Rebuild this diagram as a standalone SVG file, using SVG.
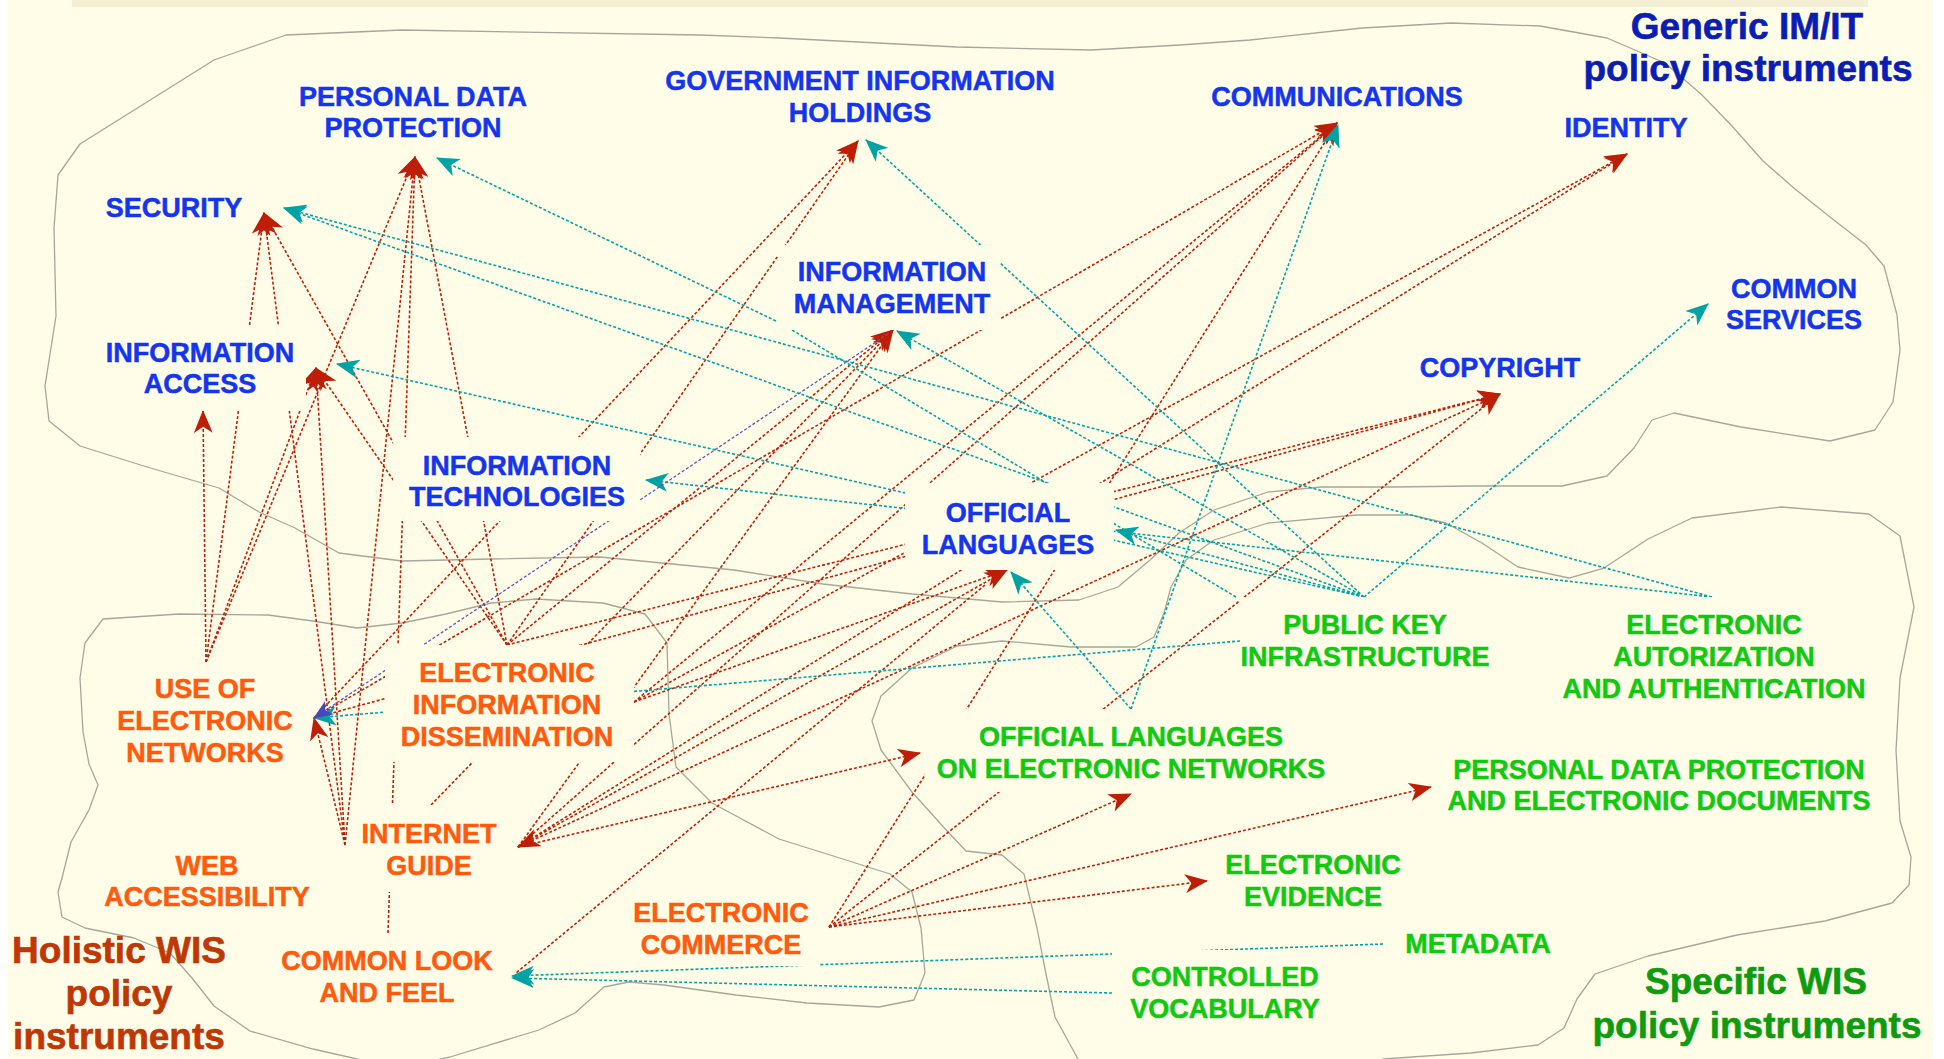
<svg xmlns="http://www.w3.org/2000/svg" width="1944" height="1059" viewBox="0 0 1944 1059">
<defs>
<style>
.bg{fill:#FFFDE8}
.bx{fill:#FFFDE8;stroke:none}
.blob{fill:none;stroke:#A8A698;stroke-width:1.3;stroke-linejoin:round}
.r{stroke:#C0200A;stroke-width:1.6;stroke-dasharray:3 2;fill:none;marker-end:url(#ar)}
.rn{stroke:#C0200A;stroke-width:1.6;stroke-dasharray:3 2;fill:none}
.t{stroke:#00A5A5;stroke-width:1.6;stroke-dasharray:3 2;fill:none;marker-end:url(#at)}
.tn{stroke:#00A5A5;stroke-width:1.6;stroke-dasharray:3 2;fill:none}
.b{stroke:#5A55C8;stroke-width:1.3;stroke-dasharray:3 2;fill:none;marker-end:url(#ab)}
text{font-family:"Liberation Sans",Arial,sans-serif;font-weight:bold;text-anchor:middle}
.lb{font-size:27px;fill:#1435F0;stroke:#1435F0;stroke-width:0.5}
.lo{font-size:27px;fill:#FF5A0D;stroke:#FF5A0D;stroke-width:0.5}
.lg{font-size:27px;fill:#12C912;stroke:#12C912;stroke-width:0.5}
.tb{font-size:37px;fill:#0A1EB4;stroke:#0A1EB4;stroke-width:0.6}
.to{font-size:37px;fill:#BE3705;stroke:#BE3705;stroke-width:0.6}
.tg{font-size:37px;fill:#0F9B0F;stroke:#0F9B0F;stroke-width:0.6}
</style>
<marker id="ar" viewBox="0 0 22 18" refX="21" refY="9" markerWidth="23" markerHeight="19" markerUnits="userSpaceOnUse" orient="auto"><path d="M0,0 L22,9 L0,18 L6,9 Z" fill="#BE1E05"/></marker>
<marker id="at" viewBox="0 0 22 18" refX="21" refY="9" markerWidth="23" markerHeight="19" markerUnits="userSpaceOnUse" orient="auto"><path d="M0,0 L22,9 L0,18 L6,9 Z" fill="#00A3A3"/></marker>
<marker id="ab" viewBox="0 0 22 18" refX="21" refY="9" markerWidth="20" markerHeight="16" markerUnits="userSpaceOnUse" orient="auto"><path d="M0,0 L22,9 L0,18 L6,9 Z" fill="#4A45B8"/></marker>
</defs>
<rect x="0" y="0" width="1944" height="1059" fill="#FFFFFF"/>
<rect class="bg" x="8" y="0" width="1925" height="1059"/>
<rect x="72" y="0" width="1796" height="7" fill="#F4EED4"/>

<g id="regions">
<path class="blob" d="M700,35 L779,38 L957,47 L1091,50 L1180,45 L1250,40 L1362,28 L1451,23 L1540,26 L1607,38 L1665,63 L1701,94 L1732,126 L1763,161 L1795,189 L1830,217 L1866,245 L1884,266 L1897,315 L1900,350 L1893,402 L1875,430 L1830,441 L1741,427 L1674,413 L1652,420 L1634,448 L1607,476 L1562,486 L1473,486 L1393,487 L1321,487 L1268,492 L1214,510 L1179,533 L1150,560 L1118,587 L1079,600 L1002,602 L912,594 L823,584 L734,570 L600,557 L491,559 L402,561 L339,553 L295,528 L259,512 L219,488 L147,467 L80,446 L49,421 L45,386 L56,316 L54,228 L58,175 L80,144 L147,102 L214,60 L286,35 L402,30 Z"/>
<path class="blob" d="M103,619 L179,614 L268,615 L313,621 L357,628 L402,623 L446,614 L491,603 L536,599 L603,603 L645,614 L667,643 L669,714 L676,767 L712,803 L779,839 L846,860 L890,874 L912,892 L921,928 L925,973 L914,1000 L879,1007 L807,1003 L736,995 L664,985 L629,982 L604,987 L575,1013 L539,1030 L450,1057 L400,1068 L357,1059 L313,1049 L250,1031 L214,1006 L192,978 L170,953 L134,938 L85,928 L62,917 L58,892 L62,878 L71,842 L89,810 L98,785 L89,764 L83,732 L80,678 L85,643 Z"/>
<path class="blob" d="M1078,1070 L1078,1059 L1055,1017 L1046,974 L1037,928 L1024,874 L1002,855 L966,851 L948,832 L912,792 L881,750 L872,721 L881,696 L912,668 L957,646 L1002,641 L1071,647 L1136,647 L1154,637 L1164,613 L1171,587 L1186,560 L1214,540 L1268,523 L1357,515 L1411,515 L1446,523 L1482,543 L1518,567 L1569,578 L1604,568 L1648,539 L1692,518 L1781,507 L1869,514 L1900,536 L1914,607 L1900,678 L1896,750 L1900,821 L1911,857 L1909,885 L1892,903 L1825,921 L1737,935 L1648,956 L1595,974 L1577,999 L1564,1028 L1538,1045 L1471,1053 L1383,1059 L1370,1070"/>
</g>

<g id="connectors">
<line class="r" x1="206" y1="662" x2="203" y2="411"/>
<line class="r" x1="206" y1="662" x2="264" y2="213"/>
<line class="r" x1="206" y1="662" x2="415" y2="157"/>
<line class="r" x1="206" y1="662" x2="316" y2="368"/>
<line class="r" x1="314" y1="718" x2="858" y2="141"/>
<line class="r" x1="314" y1="718" x2="1337" y2="123"/>
<line class="r" x1="314" y1="718" x2="1500" y2="394"/>
<line class="r" x1="345" y1="845" x2="314" y2="718"/>
<line class="r" x1="345" y1="845" x2="316" y2="368"/>
<line class="r" x1="345" y1="845" x2="264" y2="213"/>
<line class="r" x1="345" y1="845" x2="415" y2="157"/>
<line class="r" x1="388" y1="933" x2="415" y2="157"/>
<line class="r" x1="507" y1="645" x2="415" y2="157"/>
<line class="r" x1="507" y1="645" x2="264" y2="213"/>
<line class="r" x1="507" y1="645" x2="316" y2="368"/>
<line class="r" x1="507" y1="645" x2="858" y2="141"/>
<line class="r" x1="507" y1="645" x2="1500" y2="394"/>
<line class="r" x1="507" y1="645" x2="893" y2="330"/>
<line class="r" x1="431" y1="805" x2="893" y2="330"/>
<line class="r" x1="634" y1="702" x2="1337" y2="123"/>
<line class="r" x1="634" y1="702" x2="1627" y2="154"/>
<line class="r" x1="634" y1="702" x2="1007" y2="570"/>
<line class="r" x1="518" y1="847" x2="893" y2="330"/>
<line class="r" x1="518" y1="847" x2="1337" y2="123"/>
<line class="r" x1="518" y1="847" x2="1627" y2="154"/>
<line class="r" x1="518" y1="847" x2="1007" y2="570"/>
<line class="r" x1="518" y1="847" x2="920" y2="753"/>
<line class="r" x1="1492" y1="398" x2="518" y2="847"/>
<line class="r" x1="829" y1="927" x2="1337" y2="123"/>
<line class="r" x1="829" y1="927" x2="1500" y2="394"/>
<line class="r" x1="829" y1="927" x2="1131" y2="794"/>
<line class="r" x1="829" y1="927" x2="1431" y2="787"/>
<line class="r" x1="829" y1="927" x2="1207" y2="881"/>
<line class="rn" x1="985" y1="585" x2="516" y2="973"/>
<line class="t" x1="1364" y1="597" x2="284" y2="208"/>
<line class="t" x1="1364" y1="597" x2="337" y2="364"/>
<line class="t" x1="776" y1="321" x2="437" y2="158"/>
<line class="t" x1="1364" y1="597" x2="897" y2="331"/>
<line class="t" x1="1364" y1="597" x2="866" y2="140"/>
<line class="t" x1="1364" y1="597" x2="1116" y2="530"/>
<line class="t" x1="1364" y1="597" x2="1708" y2="304"/>
<line class="t" x1="1712" y1="597" x2="284" y2="208"/>
<line class="t" x1="1712" y1="597" x2="646" y2="480"/>
<line class="t" x1="1240" y1="641" x2="314" y2="718"/>
<line class="t" x1="1131" y1="709" x2="1011" y2="572"/>
<line class="t" x1="1131" y1="709" x2="1338" y2="125"/>
<line class="t" x1="1383" y1="944" x2="512" y2="976"/>
<line class="t" x1="1112" y1="993" x2="512" y2="978"/>
<line class="tn" x1="1236" y1="597" x2="792" y2="330"/>
<line class="b" x1="888" y1="334" x2="314" y2="718"/>
</g>

<g id="n-pdp"><rect class="bx" x="292" y="75" width="244" height="72"/><text class="lb"><tspan x="413" y="106">PERSONAL DATA</tspan><tspan x="413" y="137">PROTECTION</tspan></text></g>
<g id="n-security"><rect class="bx" x="100" y="192" width="150" height="34"/><text class="lb" x="174" y="217">SECURITY</text></g>
<g id="n-infoaccess"><rect class="bx" x="98" y="325" width="208" height="86"/><text class="lb"><tspan x="200" y="362">INFORMATION</tspan><tspan x="200" y="393">ACCESS</tspan></text></g>
<g id="n-infotech"><rect class="bx" x="393" y="437" width="247" height="84"/><text class="lb"><tspan x="517" y="475">INFORMATION</tspan><tspan x="517" y="506">TECHNOLOGIES</tspan></text></g>
<g id="n-govt"><rect class="bx" x="655" y="58" width="410" height="78"/><text class="lb"><tspan x="860" y="90">GOVERNMENT INFORMATION</tspan><tspan x="860" y="122">HOLDINGS</tspan></text></g>
<g id="n-infomgmt"><rect class="bx" x="778" y="245" width="222" height="85"/><text class="lb"><tspan x="892" y="281">INFORMATION</tspan><tspan x="892" y="313">MANAGEMENT</tspan></text></g>
<g id="n-comm"><rect class="bx" x="1200" y="80" width="275" height="35"/><text class="lb" x="1337" y="106">COMMUNICATIONS</text></g>
<g id="n-identity"><rect class="bx" x="1555" y="110" width="145" height="35"/><text class="lb" x="1626" y="137">IDENTITY</text></g>
<g id="n-commonservices"><rect class="bx" x="1715" y="270" width="160" height="68"/><text class="lb"><tspan x="1794" y="298">COMMON</tspan><tspan x="1794" y="329">SERVICES</tspan></text></g>
<g id="n-copyright"><rect class="bx" x="1410" y="350" width="180" height="35"/><text class="lb" x="1500" y="377">COPYRIGHT</text></g>
<g id="n-officiallang"><rect class="bx" x="905" y="483" width="209" height="87"/><text class="lb"><tspan x="1008" y="522">OFFICIAL</tspan><tspan x="1008" y="554">LANGUAGES</tspan></text></g>
<g id="n-useofen"><rect class="bx" x="110" y="662" width="195" height="112"/><text class="lo"><tspan x="205" y="698">USE OF</tspan><tspan x="205" y="730">ELECTRONIC</tspan><tspan x="205" y="762">NETWORKS</tspan></text></g>
<g id="n-eid"><rect class="bx" x="385" y="645" width="249" height="117"/><text class="lo"><tspan x="507" y="682">ELECTRONIC</tspan><tspan x="507" y="714">INFORMATION</tspan><tspan x="507" y="746">DISSEMINATION</tspan></text></g>
<g id="n-internetguide"><rect class="bx" x="350" y="805" width="160" height="87"/><text class="lo"><tspan x="429" y="843">INTERNET</tspan><tspan x="429" y="875">GUIDE</tspan></text></g>
<g id="n-webaccess"><rect class="bx" x="95" y="850" width="225" height="68"/><text class="lo"><tspan x="207" y="875">WEB</tspan><tspan x="207" y="906">ACCESSIBILITY</tspan></text></g>
<g id="n-commonlook"><rect class="bx" x="275" y="933" width="225" height="80"/><text class="lo"><tspan x="387" y="970">COMMON LOOK</tspan><tspan x="387" y="1002">AND FEEL</tspan></text></g>
<g id="n-ecommerce"><rect class="bx" x="625" y="890" width="195" height="76"/><text class="lo"><tspan x="721" y="922">ELECTRONIC</tspan><tspan x="721" y="954">COMMERCE</tspan></text></g>
<g id="n-pki"><rect class="bx" x="1240" y="597" width="255" height="83"/><text class="lg"><tspan x="1365" y="634">PUBLIC KEY</tspan><tspan x="1365" y="666">INFRASTRUCTURE</tspan></text></g>
<g id="n-eaa"><rect class="bx" x="1555" y="597" width="320" height="113"/><text class="lg"><tspan x="1714" y="634">ELECTRONIC</tspan><tspan x="1714" y="666">AUTORIZATION</tspan><tspan x="1714" y="698">AND AUTHENTICATION</tspan></text></g>
<g id="n-oloen"><rect class="bx" x="925" y="709" width="410" height="83"/><text class="lg"><tspan x="1131" y="746">OFFICIAL LANGUAGES</tspan><tspan x="1131" y="778">ON ELECTRONIC NETWORKS</tspan></text></g>
<g id="n-pdped"><rect class="bx" x="1440" y="745" width="440" height="78"/><text class="lg"><tspan x="1659" y="779">PERSONAL DATA PROTECTION</tspan><tspan x="1659" y="810">AND ELECTRONIC DOCUMENTS</tspan></text></g>
<g id="n-evidence"><rect class="bx" x="1215" y="843" width="170" height="75"/><text class="lg"><tspan x="1313" y="874">ELECTRONIC</tspan><tspan x="1313" y="906">EVIDENCE</tspan></text></g>
<g id="n-metadata"><rect class="bx" x="1390" y="925" width="175" height="40"/><text class="lg" x="1478" y="953">METADATA</text></g>
<g id="n-vocab"><rect class="bx" x="1112" y="950" width="218" height="78"/><text class="lg"><tspan x="1225" y="986">CONTROLLED</tspan><tspan x="1225" y="1018">VOCABULARY</tspan></text></g>

<g id="titles">
<text class="tb"><tspan x="1747" y="39">Generic IM/IT</tspan><tspan x="1748" y="81">policy instruments</tspan></text>
<text class="to"><tspan x="119" y="963">Holistic WIS</tspan><tspan x="119" y="1006">policy</tspan><tspan x="119" y="1049">instruments</tspan></text>
<text class="tg"><tspan x="1756" y="994">Specific WIS</tspan><tspan x="1757" y="1038">policy instruments</tspan></text>
</g>
</svg>
